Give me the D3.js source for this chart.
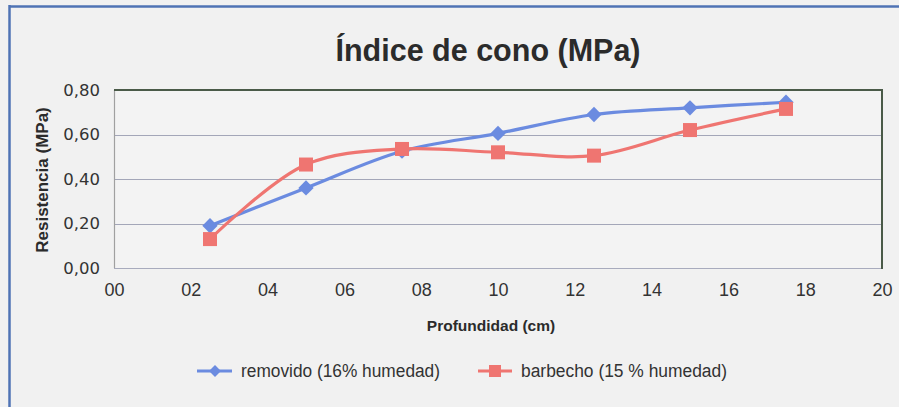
<!DOCTYPE html>
<html><head><meta charset="utf-8">
<script src="https://cdn.jsdelivr.net/npm/d3@7"></script>
<style>
html,body{margin:0;padding:0;background:#f1f1f1;}
svg{display:block;}
</style></head>
<body>
<svg id="chart" width="899" height="407"></svg>
<script>
const depths = [2.5, 5, 7.5, 10, 12.5, 15, 17.5];
const removido = [0.19, 0.36, 0.525, 0.605, 0.69, 0.72, 0.745];
const barbecho = [0.13, 0.465, 0.535, 0.52, 0.505, 0.62, 0.715];
const xTicks = [0, 2, 4, 6, 8, 10, 12, 14, 16, 18, 20];
const yTicks = [0, 0.2, 0.4, 0.6, 0.8];
const seriesNames = ["removido (16% humedad)", "barbecho (15 % humedad)"];
const title = "Índice de cono (MPa)";
const xTitle = "Profundidad (cm)";
const yTitle = "Resistencia (MPa)";

const blue = "#6b8be0", red = "#ef7571";
const narrow = "'Liberation Sans Narrow', 'Arial Narrow', 'Liberation Sans', Arial, sans-serif";
const svg = d3.select("#chart");
const W = 899, H = 407;
svg.append("rect").attr("width", W).attr("height", H).attr("fill", "#f1f1f1");
// frame
svg.append("line").attr("x1", 9).attr("x2", W).attr("y1", 6.5).attr("y2", 6.5).attr("stroke", "#4f73b4").attr("stroke-width", 2.5);
svg.append("line").attr("x1", 9.5).attr("x2", 9.5).attr("y1", 5).attr("y2", H).attr("stroke", "#4f73b4").attr("stroke-width", 2.5);

const m = {l: 114, r: 882, t: 90, b: 268};
const x = d3.scaleLinear().domain([0, 20]).range([m.l, m.r]);
const y = d3.scaleLinear().domain([0, 0.8]).range([m.b, m.t]);

svg.append("rect").attr("x", m.l).attr("y", m.t).attr("width", m.r - m.l).attr("height", m.b - m.t).attr("fill", "#f3f3f3");

// gridlines
svg.append("g").selectAll("line").data(yTicks.slice(1, 4)).join("line")
  .attr("x1", m.l).attr("x2", m.r).attr("y1", d => Math.round(y(d)) + 0.5).attr("y2", d => Math.round(y(d)) + 0.5)
  .attr("stroke", "#a3a6b8").attr("stroke-width", 1.2);
// plot borders
svg.append("line").attr("x1", m.l).attr("x2", m.r).attr("y1", m.b + 0.5).attr("y2", m.b + 0.5).attr("stroke", "#a8abbd").attr("stroke-width", 1.2);
svg.append("line").attr("x1", m.l + 0.5).attr("x2", m.l + 0.5).attr("y1", m.t).attr("y2", m.b).attr("stroke", "#a0a0a0").attr("stroke-width", 1.2);
svg.append("line").attr("x1", m.l).attr("x2", m.r + 1).attr("y1", m.t).attr("y2", m.t).attr("stroke", "#4a5a48").attr("stroke-width", 2);
svg.append("line").attr("x1", m.r).attr("x2", m.r).attr("y1", m.t).attr("y2", m.b + 1).attr("stroke", "#4a5a48").attr("stroke-width", 2);

// axes
const fmtY = d => d3.format(".2f")(d).replace(".", ",");
const fmtX = d => d3.format("02d")(d);
const yAxis = svg.append("g").attr("transform", `translate(${m.l},0)`)
  .call(d3.axisLeft(y).tickValues(yTicks).tickFormat(fmtY).tickSize(0).tickPadding(14));
yAxis.select(".domain").remove();
yAxis.selectAll("text").attr("font-family", "DejaVu Sans, Verdana, sans-serif").attr("font-size", 16.5).attr("fill", "#333");

const xAxis = svg.append("g").attr("transform", `translate(0,${m.b})`)
  .call(d3.axisBottom(x).tickValues(xTicks).tickFormat(fmtX).tickSize(0).tickPadding(15));
xAxis.select(".domain").remove();
xAxis.selectAll("text").attr("font-family", narrow).attr("font-size", 18).attr("fill", "#333");

// titles
svg.append("text").attr("x", 488).attr("y", 61).attr("text-anchor", "middle")
  .attr("font-family", "'Liberation Sans', Arial, sans-serif").attr("font-weight", "bold").attr("font-size", 30.5).attr("fill", "#2b2b2b").text(title);
svg.append("text").attr("x", 491).attr("y", 331).attr("text-anchor", "middle")
  .attr("font-family", narrow).attr("font-weight", "bold").attr("font-size", 15.5).attr("fill", "#2b2b2b").text(xTitle);
svg.append("text").attr("transform", `translate(48,${(m.t + m.b) / 2 + 1}) rotate(-90)`).attr("text-anchor", "middle")
  .attr("font-family", "'Liberation Sans', Arial, sans-serif").attr("font-weight", "bold").attr("font-size", 17).attr("fill", "#2b2b2b").text(yTitle);

// lines
const lineGen = d3.line().x(d => x(d[0])).y(d => y(d[1])).curve(d3.curveCatmullRom.alpha(0.5));
const rData = depths.map((d, i) => [d, removido[i]]);
const bData = depths.map((d, i) => [d, barbecho[i]]);
svg.append("path").datum(rData).attr("d", lineGen).attr("fill", "none").attr("stroke", blue).attr("stroke-width", 3.2);
svg.append("path").datum(bData).attr("d", lineGen).attr("fill", "none").attr("stroke", red).attr("stroke-width", 3.2);

const diamond = d3.symbol().type(d3.symbolDiamond2).size(150);
svg.append("g").selectAll("path").data(rData).join("path")
  .attr("d", diamond).attr("transform", d => `translate(${x(d[0])},${y(d[1])})`).attr("fill", blue);
svg.append("g").selectAll("rect").data(bData).join("rect")
  .attr("x", d => x(d[0]) - 7).attr("y", d => y(d[1]) - 7).attr("width", 14).attr("height", 14).attr("fill", red);

// legend
const legY = 371;
const lg = svg.append("g");
lg.append("line").attr("x1", 197).attr("x2", 232).attr("y1", legY).attr("y2", legY).attr("stroke", blue).attr("stroke-width", 3);
lg.append("path").attr("d", d3.symbol().type(d3.symbolDiamond2).size(90)).attr("transform", `translate(215,${legY})`).attr("fill", blue);
lg.append("text").attr("x", 241).attr("y", legY + 6).attr("font-family", narrow).attr("font-size", 18)
  .attr("textLength", 199).attr("lengthAdjust", "spacingAndGlyphs").attr("fill", "#333").text(seriesNames[0]);
lg.append("line").attr("x1", 478).attr("x2", 512).attr("y1", legY).attr("y2", legY).attr("stroke", red).attr("stroke-width", 3);
lg.append("rect").attr("x", 489).attr("y", legY - 6).attr("width", 12).attr("height", 12).attr("fill", red);
lg.append("text").attr("x", 521).attr("y", legY + 6).attr("font-family", narrow).attr("font-size", 18)
  .attr("textLength", 206).attr("lengthAdjust", "spacingAndGlyphs").attr("fill", "#333").text(seriesNames[1]);
</script>
</body></html>
